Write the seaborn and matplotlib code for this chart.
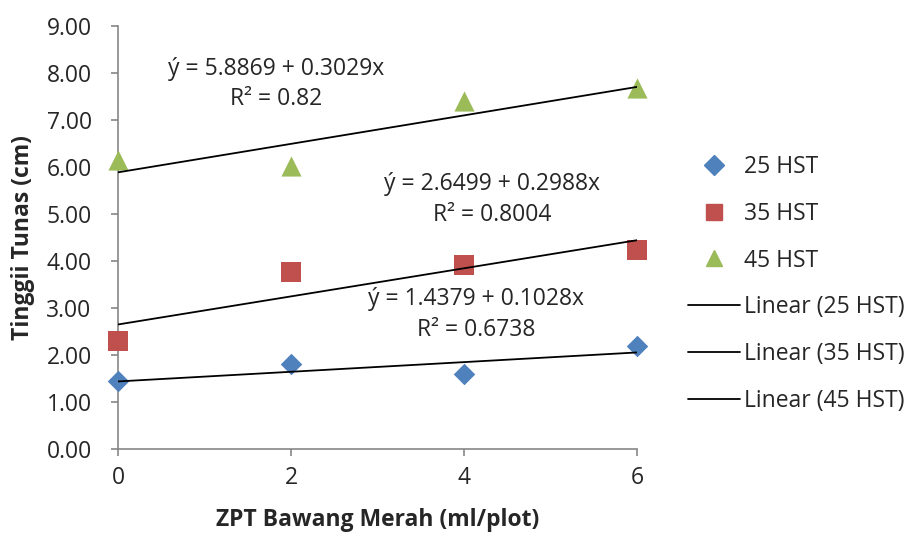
import numpy as np
import pandas as pd
import matplotlib
matplotlib.use("Agg")
import matplotlib.pyplot as plt
from matplotlib.lines import Line2D
import seaborn as sns

# data
dosis = [0, 2, 4, 6]
hst_25 = [1.45, 1.81, 1.60, 2.19]
hst_35 = [2.30, 3.77, 3.91, 4.23]
hst_45 = [6.15, 6.02, 7.40, 7.68]
series = ["25 HST", "35 HST", "45 HST"]
intercepts = [1.4379, 2.6499, 5.8869]
slopes = [0.1028, 0.2988, 0.3029]
r2 = ["0.6738", "0.8004", "0.82"]
y_ticks = [0, 1, 2, 3, 4, 5, 6, 7, 8, 9]
x_ticks = [0, 2, 4, 6]

df = pd.DataFrame({
    "dosis": dosis * 3,
    "tinggi": hst_25 + hst_35 + hst_45,
    "umur": [s for s in series for _ in dosis],
})

colors = {"25 HST": "#4F81BD", "35 HST": "#C0504D", "45 HST": "#9BBB59"}
markers = {"25 HST": "D", "35 HST": "s", "45 HST": "^"}
sizes = {"25 HST": 120, "35 HST": 200, "45 HST": 210}
fs = 16.5

sns.set_style("white")
plt.rcParams['font.family'] = ['Open Sans', 'DejaVu Sans']

fig = plt.figure(figsize=(9.08, 5.35), dpi=100)
ax = fig.add_axes([0.13, 0.1607, 0.5716, 0.7907])

for s in series:
    sub = df[df["umur"] == s]
    sns.scatterplot(data=sub, x="dosis", y="tinggi", color=colors[s],
                    marker=markers[s], s=sizes[s], linewidth=0, ax=ax,
                    clip_on=False, zorder=3, legend=False)

# trend lines from the printed equations
xs = np.array([min(dosis), max(dosis)])
for a, b in zip(intercepts, slopes):
    ax.plot(xs, a + b * xs, color="black", lw=1.3, zorder=4)

# equation labels
pos = [(4.14, 2.86), (4.32, 5.31), (1.83, 7.76)]
for (px, py), a, b, r in zip(pos, intercepts, slopes, r2):
    ax.text(px, py, f"ý = {a:.4f} + {b:.4f}x\nR² = {r}", ha="center", va="center",
            fontsize=fs, linespacing=1.35)

ax.set_xlim(0, 6)
ax.set_ylim(0, 9)
ax.set_xticks(x_ticks)
ax.set_yticks(y_ticks)
ax.set_yticklabels([f"{v:.2f}" for v in y_ticks])
ax.tick_params(axis="both", labelsize=fs, length=5, width=1.2, color="#868686",
               direction="out", left=True, bottom=True)
ax.tick_params(axis="y", pad=14)
ax.tick_params(axis="x", pad=7)
for side in ["top", "right"]:
    ax.spines[side].set_visible(False)
for side in ["left", "bottom"]:
    ax.spines[side].set_color("#868686")
    ax.spines[side].set_linewidth(1.2)

ax.set_xlabel("ZPT Bawang Merah (ml/plot)", fontsize=fs, fontweight="bold", labelpad=13)
ax.set_ylabel("Tinggii Tunas (cm)", fontsize=fs, fontweight="bold", labelpad=8)

handles = [Line2D([], [], ls="none", marker=markers[s], color=colors[s],
                  markersize=12 if markers[s] != "D" else 10) for s in series]
handles += [Line2D([], [], color="black", lw=1.3) for s in series]
labels = series + [f"Linear ({s})" for s in series]
fig.legend(handles, labels, loc="upper left", bbox_to_anchor=(0.748, 0.728),
           frameon=False, fontsize=fs, labelspacing=1.0, handlelength=2.27,
           handletextpad=0.18, borderaxespad=0)

fig.savefig("out.png", dpi=100)
